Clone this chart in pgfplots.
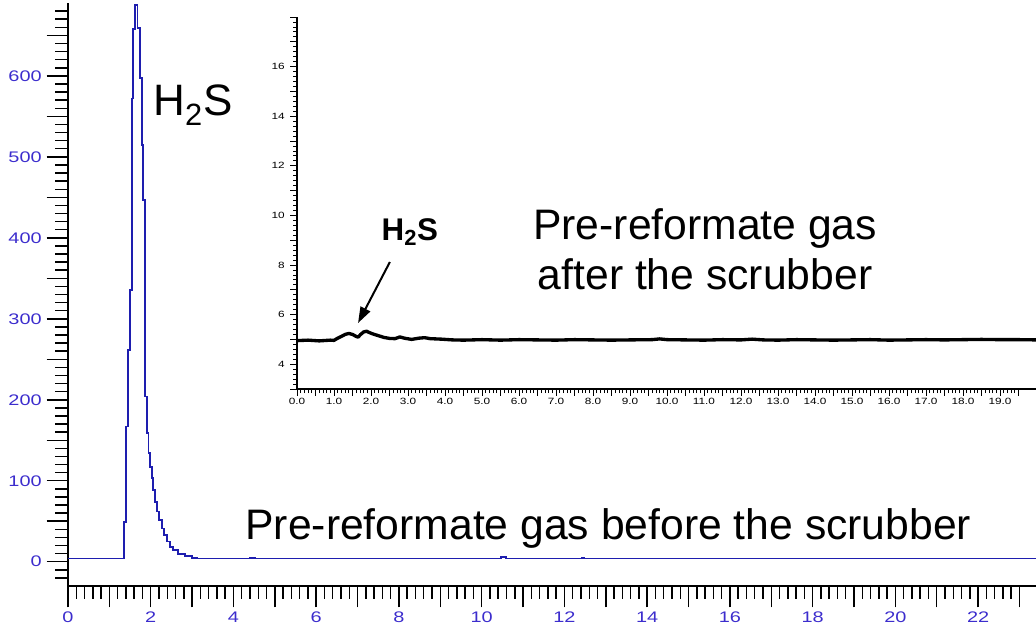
\documentclass[border=0pt]{standalone}
\usepackage{fontspec}
\setmainfont{Liberation Sans}
\newfontfamily\tickfont[FakeStretch=1.3]{Liberation Sans}
\usepackage{pgfplots}
\pgfplotsset{compat=1.18}
\usetikzlibrary{arrows.meta}
\definecolor{lblue}{RGB}{60,45,205}
\definecolor{pblue}{RGB}{30,30,175}
\begin{document}
\begin{tikzpicture}
\path[use as bounding box] (0,0) rectangle (777pt,469.5pt);
% main chromatogram
\begin{axis}[
  at={(51pt,30pt)}, anchor=south west, scale only axis,
  width=726pt, height=437.25pt,
  xmin=0, xmax=23.4, ymin=-30, ymax=690,
  axis x line*=bottom, axis y line*=left,
  axis line style={line width=1.4pt, black},
  tick align=outside,
  xtick={0,1,...,23},
  xticklabels={0,,2,,4,,6,,8,,10,,12,,14,,16,,18,,20,,22,},
  minor x tick num=4,
  ytick={0,50,...,650},
  yticklabels={0,,100,,200,,300,,400,,500,,600,},
  minor ytick={-20,-10,...,680},
  major tick length=16pt, minor tick length=9.5pt,
  every tick/.style={black, line width=1.1pt},
  tick label style={font=\tickfont\fontsize{11.5}{13}\selectfont, text=lblue},
  xticklabel style={inner sep=1pt, yshift=-2pt},
  yticklabel style={inner sep=1pt, xshift=-2.5pt},
]
\addplot[const plot, pblue, line width=1.4pt] coordinates {
(0,4)(1.354,49)(1.402,167)(1.458,261)(1.499,336)(1.540,572)(1.579,658)(1.620,688)
(1.680,659)(1.741,597)(1.782,515)(1.821,447)(1.862,204)(1.906,159)(1.945,134)
(1.983,117)(2.024,103)(2.062,89)(2.103,74)(2.159,62)(2.207,51.5)(2.265,41)
(2.321,33)(2.386,25)(2.466,18.5)(2.546,14.5)(2.667,10)(2.829,7)(2.991,5)(3.11,4)
(4.40,5)(4.52,4)(10.47,6)(10.58,4)(12.43,5)(12.47,4)(23.4,4)
};
\node[font=\fontsize{33}{38}\selectfont] at (axis cs:3.02,564) {H\textsubscript{2}S};
\node[font=\fontsize{32}{37}\selectfont] at (axis cs:13.06,41) {Pre-reformate gas before the scrubber};
\end{axis}
% inset chromatogram
\begin{axis}[
  at={(222.75pt,177.75pt)}, anchor=south west, scale only axis,
  width=555pt, height=279pt,
  xmin=0, xmax=20, ymin=3, ymax=18,
  axis x line*=bottom, axis y line*=left,
  axis line style={line width=1pt, black},
  tick align=outside,
  xtick={0,0.5,...,19.5},
  xticklabels={0.0,,1.0,,2.0,,3.0,,4.0,,5.0,,6.0,,7.0,,8.0,,9.0,,10.0,,11.0,,12.0,,13.0,,14.0,,15.0,,16.0,,17.0,,18.0,,19.0,},
  minor x tick num=4,
  ytick={3,4,...,18},
  yticklabels={,4,,6,,8,,10,,12,,14,,16,,},
  minor y tick num=4,
  major tick length=5pt, minor tick length=3pt,
  every tick/.style={black, line width=0.6pt},
  tick label style={font=\tickfont\fontsize{6.8}{8}\selectfont, text=black},
  xticklabel style={inner sep=1pt, yshift=-1pt},
  yticklabel style={inner sep=1pt, xshift=-3pt},
]
\addplot[black, line width=2.5pt, line join=round] coordinates {
(0,4.95)(0.3,4.97)(0.6,4.94)(0.9,4.97)(1.0,4.96)(1.1,5.05)(1.2,5.12)(1.3,5.2)
(1.4,5.24)(1.5,5.2)(1.6,5.12)(1.65,5.09)(1.72,5.2)(1.8,5.3)(1.88,5.33)(1.95,5.28)
(2.05,5.22)(2.2,5.15)(2.35,5.08)(2.5,5.04)(2.65,5.03)(2.78,5.1)(2.9,5.05)(3.1,5.0)
(3.3,5.05)(3.45,5.07)(3.6,5.03)(3.9,5.01)(4.2,4.98)(4.5,4.97)(5.0,4.99)(5.5,4.97)
(6.0,4.99)(6.5,4.98)(7.0,4.97)(7.5,4.99)(8.0,4.98)(8.5,4.97)(9.0,4.98)(9.6,4.99)
(9.8,5.02)(10.0,4.99)(10.5,4.98)(11.0,4.97)(11.5,4.99)(12.0,4.98)(12.3,5.01)
(12.6,4.98)(13.0,4.97)(13.5,4.99)(14.0,4.98)(14.5,4.97)(15.0,4.98)(15.5,4.99)
(16.0,4.97)(16.5,4.98)(17.0,4.99)(17.5,4.98)(18.0,4.99)(18.5,5.0)(19.0,4.99)
(19.5,4.99)(20,4.98)
};
\node[font=\bfseries\fontsize{23.5}{27}\selectfont] at (axis cs:3.05,9.33) {H\textsubscript{2}S};
\draw[line width=1.5pt, -{Triangle[length=12pt,width=8pt]}] (axis cs:2.51,8.12) -- (axis cs:1.65,5.66);
\node[align=center, font=\fontsize{32}{37.5}\selectfont] at (axis cs:11.03,8.62) {Pre-reformate gas\\after the scrubber};
\end{axis}
\end{tikzpicture}
\end{document}
